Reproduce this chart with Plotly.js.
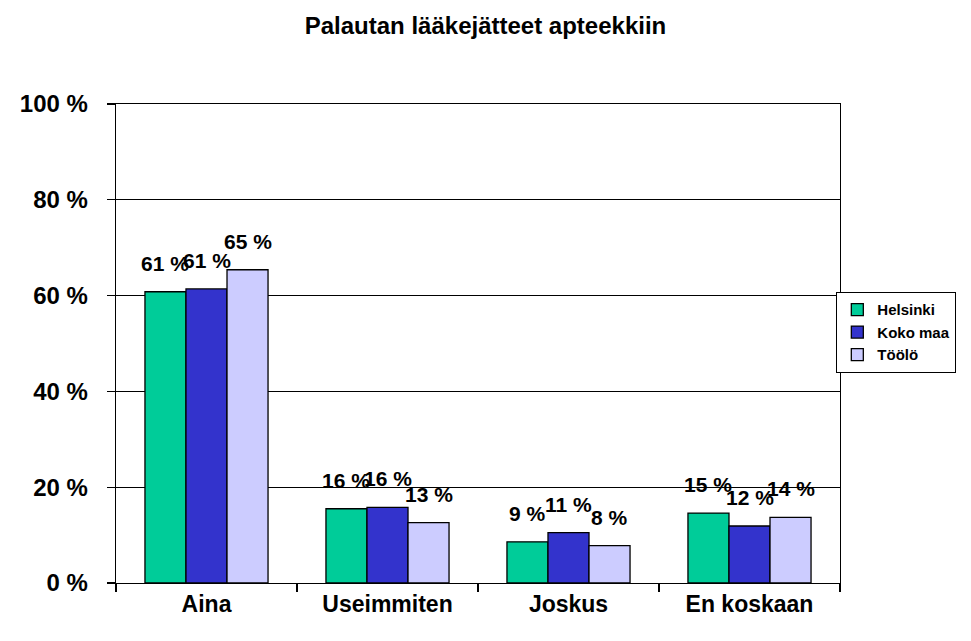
<!DOCTYPE html>
<html>
<head>
<meta charset="utf-8">
<script src="https://cdn.plot.ly/plotly-3.0.1.min.js"></script>
<style>html,body{margin:0;padding:0;background:#fff;}#chart{width:971px;height:641px;}</style>
</head>
<body>
<div id="chart"></div>
<script>
var categories = ["Aina", "Useimmiten", "Joskus", "En koskaan"];
var seriesNames = ["Helsinki", "Koko maa", "Töölö"];
var helsinki = [60.8, 15.5, 8.6, 14.6];
var kokoMaa = [61.4, 15.8, 10.5, 11.9];
var toolo = [65.4, 12.6, 7.8, 13.7];
var yTickVals = [0, 20, 40, 60, 80, 100];
var yTickText = ["0 %", "20 %", "40 %", "60 %", "80 %", "100 %"];

var colors = ["#00CC99", "#3333CC", "#CCCCFF"];
var allSeries = [helsinki, kokoMaa, toolo];
var FONT = "Liberation Sans, Arial, sans-serif";

var margin = {l: 116, r: 131, t: 104, b: 58};
var plotW = 971 - margin.l - margin.r;
var bargap = 0.32;
var barW = plotW / categories.length * (1 - bargap) / 3;

var traces = allSeries.map(function (vals, i) {
  return {
    type: "bar",
    name: "<b>" + seriesNames[i] + "</b>",
    x: categories,
    y: vals,
    marker: {color: colors[i], line: {color: "#000", width: 1.3}},
    hoverinfo: "skip"
  };
});

var annotations = [];
allSeries.forEach(function (vals, i) {
  vals.forEach(function (v, j) {
    annotations.push({
      xref: "x", yref: "y", x: categories[j], y: v,
      xshift: (i - 1) * barW, yshift: 15,
      yanchor: "bottom", xanchor: "center",
      showarrow: false,
      text: "<b>" + Math.round(v) + " %</b>",
      font: {family: FONT, size: 21, color: "#000"}
    });
  });
});

var layout = {
  width: 971, height: 641,
  margin: margin,
  paper_bgcolor: "#fff", plot_bgcolor: "#fff",
  barmode: "group", bargap: bargap, bargroupgap: 0,
  title: {text: "<b>Palautan lääkejätteet apteekkiin</b>", font: {family: FONT, size: 24, color: "#000"}, x: 0.5, xanchor: "center", y: 0.96, yanchor: "middle"},
  showlegend: true,
  legend: {
    x: 0.9945, xanchor: "left", y: 0.6075, yanchor: "top",
    bgcolor: "#fff", bordercolor: "#000", borderwidth: 1.3,
    font: {family: FONT, size: 15, color: "#000"},
    tracegroupgap: 0, itemclick: false, itemwidth: 30
  },
  xaxis: {
    type: "category", showline: true, linecolor: "#000", linewidth: 1.3, mirror: true,
    ticks: "outside", ticklen: 8, tickcolor: "#000", tickwidth: 1.3, tickson: "boundaries",
    tickfont: {family: FONT, size: 23, color: "#000"}, showgrid: false,
    tickprefix: "<b>", ticksuffix: "</b>", fixedrange: true
  },
  yaxis: {
    range: [0, 100], tickvals: yTickVals, ticktext: yTickText.map(function(t){return "<b>"+t+"</b>";}),
    showline: true, linecolor: "#000", linewidth: 1.3, mirror: true,
    ticks: "outside", ticklen: 8, tickcolor: "#000", tickwidth: 1.3,
    showgrid: true, gridcolor: "#000", gridwidth: 1.3, zeroline: false,
    tickfont: {family: FONT, size: 24, color: "#000"}, ticklabelstandoff: 14, fixedrange: true
  },
  annotations: annotations
};

Plotly.newPlot("chart", traces, layout, {displayModeBar: false, staticPlot: true});
</script>
</body>
</html>
